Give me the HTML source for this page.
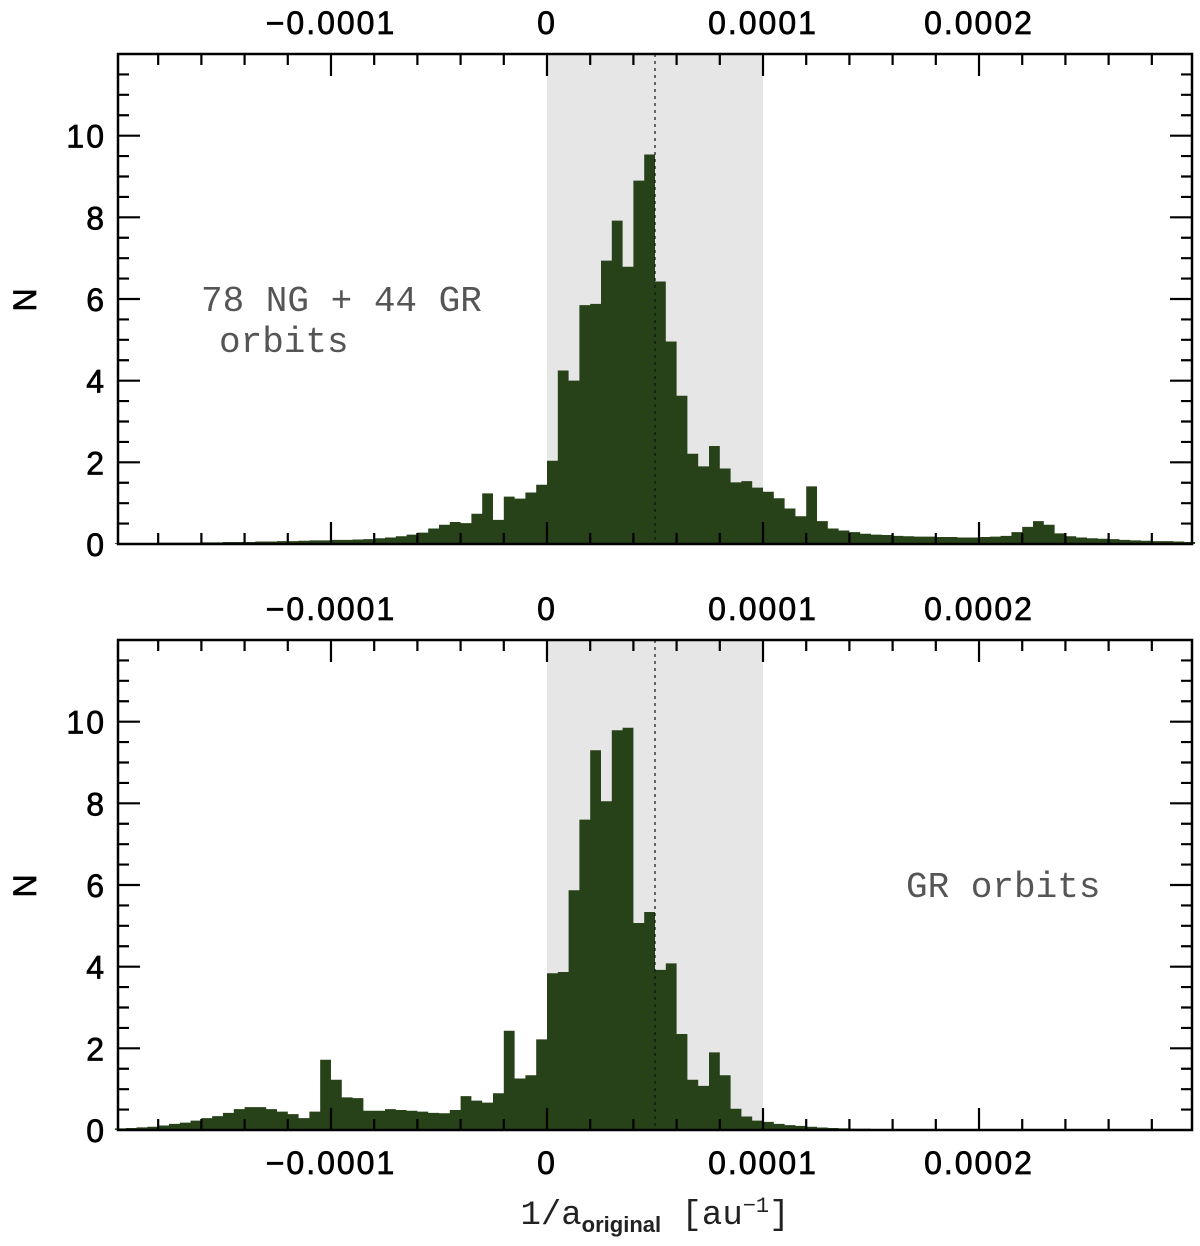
<!DOCTYPE html>
<html><head><meta charset="utf-8">
<style>
html,body{margin:0;padding:0;background:#fff;}
svg{display:block;}
</style></head>
<body>
<svg id="chart" width="1200" height="1246" viewBox="0 0 1200 1246" xmlns="http://www.w3.org/2000/svg"></svg>
<script>
// bin edges: 100 bins of 5e-6 from -2e-4
const binStart = -0.0002;
const binWidth = 0.000005;
const topCounts = [0.02,0.02,0.02,0.02,0.03,0.03,0.03,0.03,0.04,0.04,0.05,
 0.05,0.05,0.06,0.06,0.07,0.07,0.08,0.09,0.09,0.1,
 0.1,0.11,0.12,0.14,0.16,0.19,0.23,0.28,0.38,0.47,
 0.54,0.51,0.74,1.24,0.59,1.16,1.11,1.26,1.45,
 2.04,4.25,4.0,5.85,5.88,6.94,7.92,6.79,8.9,9.54,
 6.43,4.96,3.63,2.21,1.9,2.4,1.85,1.51,1.54,1.38,
 1.28,1.12,0.87,0.68,1.41,0.56,0.38,0.33,0.29,0.25,
 0.23,0.22,0.2,0.19,0.18,0.18,0.17,0.17,0.16,0.16,
 0.17,0.18,0.2,0.29,0.42,0.56,0.47,0.26,0.19,0.16,
 0.14,0.13,0.12,0.1,0.09,0.08,0.07,0.07,0.06,0.05];
const bottomCounts = [0.04,0.05,0.065,0.08,0.11,0.15,0.18,0.23,0.29,0.34,
 0.42,0.51,0.56,0.56,0.51,0.45,0.39,0.29,0.45,1.72,
 1.23,0.8,0.78,0.47,0.47,0.51,0.49,0.47,0.45,0.42,
 0.41,0.49,0.83,0.72,0.67,0.9,2.43,1.26,1.34,2.22,
 3.84,3.87,5.87,7.6,9.3,8.05,9.79,9.85,5.07,5.34,
 3.92,4.08,2.35,1.23,1.08,1.9,1.34,0.52,0.33,0.23,
 0.2,0.15,0.12,0.1,0.08,0.06,0.05,0.04,0.03,0.03,
 0.02,0.02,0.02,0.01,0.01,0.01,0.01,0.01,0.01,0.01,
 0.01,0,0,0,0,0,0,0,0,0,
 0,0,0,0,0,0,0,0,0,0];
const xTickValues = [-0.0001, 0, 0.0001, 0.0002];
const xTickLabels = ["\u22120.0001", "0", "0.0001", "0.0002"];
const yTickValues = [0, 2, 4, 6, 8, 10];
const yTickLabels = ["0", "2", "4", "6", "8", "10"];

const NS = "http://www.w3.org/2000/svg";
const svg = document.getElementById("chart");
const X0 = 118, X1 = 1192;
const xmin = -0.0001986, xmax = 0.0002986;
const xs = v => X0 + (v - xmin) / (xmax - xmin) * (X1 - X0);
const LBL = "font-family:'Liberation Sans',sans-serif;font-size:32px;letter-spacing:2px;stroke:#000;stroke-width:0.7px;";

function el(tag, attrs, parent) {
  const e = document.createElementNS(NS, tag);
  for (const k in attrs) e.setAttribute(k, attrs[k]);
  (parent || svg).appendChild(e);
  return e;
}

function panel(top, bottom, counts, name, note) {
  const g = el("g", {});
  
  
  const ys = v => bottom - v / 12 * (bottom - top);
  const band = el("rect", {x: xs(0), y: top, width: xs(0.0001) - xs(0), height: bottom - top, fill: "#e6e6e6"}, g);
  
  
  let d = "M" + xs(binStart) + " " + bottom;
  counts.forEach((c, i) => {
    const a = xs(binStart + i * binWidth), b = xs(binStart + (i + 1) * binWidth);
    d += " L" + a + " " + ys(c) + " L" + b + " " + ys(c);
  });
  d += " L" + xs(binStart + counts.length * binWidth) + " " + bottom + " Z";
  const hist = el("path", {d: d, fill: "#274219"}, g);
  
  
  const dl = el("line", {x1: xs(0.00005), x2: xs(0.00005), y1: top, y2: bottom, stroke: "#111", "stroke-width": 1.2, "stroke-dasharray": "3,4"}, g);
  
  
  let td = "";
  for (let k = -9; k <= 14; k++) {
    const v = k * 0.00002, x = xs(v);
    if (x < X0 || x > X1) continue;
    const major = Math.abs(v / 0.0001 - Math.round(v / 0.0001)) < 1e-6;
    const L = major ? 22 : 11;
    td += `M${x} ${bottom}V${bottom - L}M${x} ${top}V${top + L}`;
  }
  for (let k = 1; k < 24; k++) {
    const v = k * 0.5, y = ys(v);
    const L = (k % 4 === 0) ? 22 : 11;
    td += `M${X0} ${y}H${X0 + L}M${X1} ${y}H${X1 - L}`;
  }
  const ticks = el("path", {d: td, stroke: "#000", "stroke-width": 2.2, fill: "none"}, g);
  
  
  const frame = el("rect", {x: X0, y: top, width: X1 - X0, height: bottom - top, fill: "none", stroke: "#000", "stroke-width": 2.5}, g);
  
  
  yTickValues.forEach((v, i) => {
    const t = el("text", {x: 106, y: ys(v) + 12, "text-anchor": "end", style: LBL}, g);
    
    
    t.textContent = yTickLabels[i];
  });
  xTickValues.forEach((v, i) => {
    const t = el("text", {x: xs(v), y: top - 20, "text-anchor": "middle", style: LBL}, g);
    
    
    t.textContent = xTickLabels[i];
  });
  const yt = el("text", {x: 0, y: 0, "text-anchor": "middle", style: LBL, transform: `translate(36 ${(top + bottom) / 2}) rotate(-90)`}, g);
  
  
  yt.textContent = "N";
  note.forEach(n => {
    const t = el("text", {x: n[0], y: n[1], style: "font-family:'Liberation Mono',monospace;font-size:36px;fill:#555;"}, g);
    
    
    t.textContent = n[2];
  });
  return ys;
}

panel(54, 544, topCounts, "top-panel-ng-gr", [[201, 311, "78 NG + 44 GR"], [219, 352, "orbits"]]);
panel(640, 1130, bottomCounts, "bottom-panel-gr", [[906, 897, "GR orbits"]]);

xTickValues.forEach((v, i) => {
  const t = el("text", {x: xs(v), y: 1174, "text-anchor": "middle", style: LBL});
  
  
  t.textContent = xTickLabels[i];
});
const xt = el("text", {x: 655, y: 1224, "text-anchor": "middle", style: "font-family:'Liberation Mono',monospace;font-size:34px;fill:#222;"});


xt.innerHTML = '1/a<tspan style="font-family:\'Liberation Sans\',sans-serif;font-size:22px;font-weight:bold" dy="8">original</tspan><tspan dy="-8"> [au</tspan><tspan style="font-size:22px" dy="-12">\u22121</tspan><tspan dy="12">]</tspan>';
</script>
</body></html>
